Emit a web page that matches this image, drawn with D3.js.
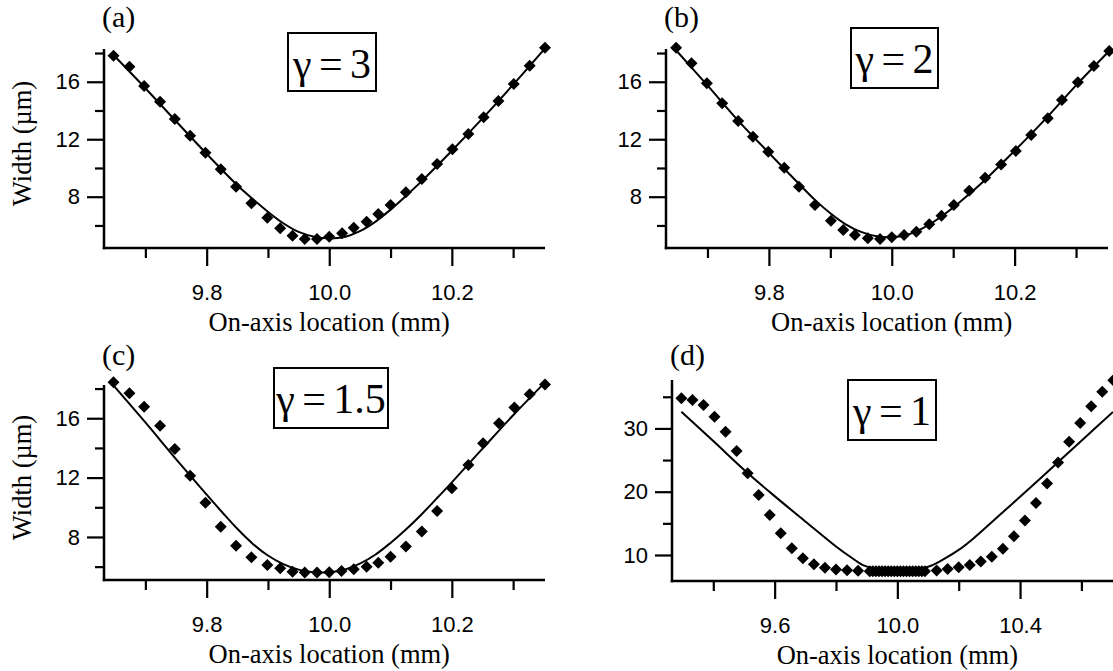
<!DOCTYPE html>
<html><head><meta charset="utf-8">
<script src="https://cdn.jsdelivr.net/npm/d3@7"></script>
<style>
body{margin:0;background:#fff;}
svg{display:block;}
</style></head><body>
<svg id="chart" width="1113" height="671"></svg>
<script>
// ---------------- DATA ----------------
// Panel (a)  gamma = 3
const aMarkX = [9.648, 9.674, 9.698, 9.724, 9.748, 9.773, 9.798, 9.823, 9.848, 9.873, 9.899, 9.920, 9.940, 9.960, 9.980, 10.000, 10.021, 10.040, 10.061, 10.080, 10.100, 10.125, 10.151, 10.176, 10.201, 10.227, 10.252, 10.276, 10.301, 10.327, 10.352];
const aMarkY = [17.81, 17.05, 15.70, 14.61, 13.41, 12.24, 11.06, 9.91, 8.70, 7.54, 6.54, 5.80, 5.29, 5.06, 5.06, 5.22, 5.45, 5.84, 6.26, 6.80, 7.42, 8.31, 9.23, 10.28, 11.30, 12.36, 13.53, 14.66, 15.84, 17.12, 18.37];
const aFitX = [9.648, 9.70, 9.75, 9.80, 9.85, 9.875, 9.90, 9.925, 9.95, 9.975, 10.00, 10.025, 10.05, 10.075, 10.10, 10.125, 10.15, 10.20, 10.25, 10.30, 10.352];
const aFitY = [17.86, 15.55, 13.25, 10.98, 8.80, 7.85, 6.95, 6.15, 5.55, 5.22, 5.10, 5.20, 5.60, 6.25, 7.10, 8.05, 9.05, 11.20, 13.45, 15.80, 18.33];

// Panel (b)  gamma = 2
const bMarkX = [9.649, 9.674, 9.699, 9.724, 9.750, 9.774, 9.799, 9.825, 9.849, 9.875, 9.901, 9.921, 9.940, 9.961, 9.981, 10.000, 10.020, 10.040, 10.061, 10.081, 10.101, 10.126, 10.152, 10.178, 10.202, 10.227, 10.254, 10.277, 10.303, 10.329, 10.354];
const bMarkY = [18.37, 17.28, 15.89, 14.50, 13.27, 12.18, 11.13, 10.02, 8.70, 7.42, 6.33, 5.68, 5.33, 5.10, 5.06, 5.17, 5.33, 5.56, 6.08, 6.68, 7.42, 8.42, 9.32, 10.25, 11.18, 12.29, 13.46, 14.73, 15.96, 17.10, 18.14];
const bFitX = [9.646, 9.70, 9.75, 9.80, 9.85, 9.875, 9.90, 9.925, 9.95, 9.975, 10.00, 10.025, 10.05, 10.075, 10.10, 10.125, 10.15, 10.20, 10.25, 10.30, 10.354];
const bFitY = [18.33, 15.75, 13.30, 11.05, 8.85, 7.78, 6.85, 6.08, 5.55, 5.25, 5.18, 5.35, 5.80, 6.45, 7.25, 8.15, 9.10, 11.20, 13.40, 15.75, 18.14];

// Panel (c)  gamma = 1.5
const cMarkX = [9.648, 9.674, 9.698, 9.724, 9.748, 9.773, 9.798, 9.823, 9.848, 9.873, 9.899, 9.920, 9.940, 9.960, 9.980, 10.000, 10.020, 10.040, 10.061, 10.080, 10.100, 10.125, 10.151, 10.176, 10.200, 10.227, 10.251, 10.277, 10.302, 10.327, 10.352];
const cMarkY = [18.42, 17.68, 16.77, 15.50, 13.93, 12.13, 10.31, 8.69, 7.41, 6.63, 6.11, 5.89, 5.66, 5.60, 5.60, 5.62, 5.71, 5.82, 6.00, 6.27, 6.67, 7.35, 8.36, 9.75, 11.28, 12.85, 14.31, 15.66, 16.73, 17.61, 18.28];
const cFitX = [9.645, 9.70, 9.75, 9.80, 9.825, 9.85, 9.875, 9.90, 9.925, 9.95, 9.975, 10.00, 10.025, 10.05, 10.075, 10.10, 10.125, 10.15, 10.175, 10.20, 10.25, 10.30, 10.352];
const cFitY = [18.35, 15.72, 13.25, 10.85, 9.68, 8.55, 7.55, 6.75, 6.17, 5.80, 5.62, 5.62, 5.80, 6.20, 6.80, 7.60, 8.50, 9.50, 10.58, 11.68, 13.95, 16.20, 18.42];

// Panel (d)  gamma = 1
const dMarkX = [9.296, 9.332, 9.368, 9.404, 9.440, 9.476, 9.512, 9.548, 9.584, 9.620, 9.656, 9.692, 9.728, 9.764, 9.800, 9.836, 9.872,
                9.91, 9.92, 9.93, 9.94, 9.95, 9.96, 9.97, 9.98, 9.99, 10.00, 10.01, 10.02, 10.03, 10.04, 10.05, 10.06, 10.07, 10.08, 10.09,
                10.128, 10.164, 10.200, 10.236, 10.272, 10.308, 10.344, 10.380, 10.416, 10.452, 10.488, 10.524, 10.560, 10.596, 10.632, 10.668, 10.704];
const dMarkY = [34.75, 34.49, 33.70, 31.85, 29.48, 26.43, 22.90, 19.48, 16.32, 13.43, 11.06, 9.48, 8.53, 7.99, 7.70, 7.58, 7.52,
                7.45, 7.45, 7.45, 7.45, 7.45, 7.45, 7.45, 7.45, 7.45, 7.45, 7.45, 7.45, 7.45, 7.45, 7.45, 7.45, 7.45, 7.45, 7.45,
                7.55, 7.77, 8.06, 8.42, 8.98, 9.73, 10.98, 12.95, 15.45, 18.22, 21.30, 24.62, 27.90, 30.85, 33.52, 35.80, 37.60];
const dFitX = [9.296, 9.40, 9.511, 9.60, 9.70, 9.80, 9.85, 9.89, 9.92, 9.96, 10.00, 10.04, 10.08, 10.11, 10.15, 10.20, 10.25, 10.34, 10.43, 10.52, 10.61, 10.703];
const dFitY = [32.64, 28.00, 23.00, 19.30, 15.30, 11.35, 9.60, 8.35, 7.95, 7.85, 7.85, 7.85, 7.92, 8.30, 9.30, 10.80, 12.70, 16.60, 20.50, 24.50, 28.50, 32.60];

// Tick values and labels
const xMajorABC = [9.8, 10.0, 10.2];
const xMinorABC = [9.7, 9.9, 10.1, 10.3];
const yMajorABC = [8, 12, 16];
const yMinorABC = [6, 10, 14, 18];
const xMajorD = [9.6, 10.0, 10.4];
const xMinorD = [9.4, 9.8, 10.2, 10.6];
const yMajorD = [10, 20, 30];
const yMinorD = [15, 25, 35];

const panelLetters = ["(a)", "(b)", "(c)", "(d)"];
const gammaLabels = ["γ = 3", "γ = 2", "γ = 1.5", "γ = 1"];
const xTitle = "On-axis location (mm)";
const yTitle = "Width (µm)";

// ---------------- LAYOUT ----------------
const layout = [
  {left:104, right:545, top:49, bottom:248, xd:[9.6325,10.352], yd:[4.43,18.28], letterY:27,
   xMaj:xMajorABC, xMin:xMinorABC, yMaj:yMajorABC, yMin:yMinorABC, yTitle:true,
   box:{x:288, y:33, w:88, h:58}, mx:aMarkX, my:aMarkY, fx:aFitX, fy:aFitY},
  {left:666, right:1108, top:49, bottom:248, xd:[9.6325,10.352], yd:[4.43,18.28], letterY:27,
   xMaj:xMajorABC, xMin:xMinorABC, yMaj:yMajorABC, yMin:yMinorABC, yTitle:false,
   box:{x:851, y:28, w:87, h:60}, mx:bMarkX, my:bMarkY, fx:bFitX, fy:bFitY},
  {left:104, right:545, top:385, bottom:580, xd:[9.6325,10.352], yd:[5.10,18.24], letterY:365,
   xMaj:xMajorABC, xMin:xMinorABC, yMaj:yMajorABC, yMin:yMinorABC, yTitle:true,
   box:{x:274, y:368, w:114, h:60}, mx:cMarkX, my:cMarkY, fx:cFitX, fy:cFitY},
  {left:672, right:1113, top:380, bottom:581, xd:[9.2654,10.703], yd:[5.89,37.65], letterY:365,
   xMaj:xMajorD, xMin:xMinorD, yMaj:yMajorD, yMin:yMinorD, yTitle:false,
   box:{x:848, y:380, w:88, h:60}, mx:dMarkX, my:dMarkY, fx:dFitX, fy:dFitY}
];

const svg = d3.select("#chart");
svg.append("rect").attr("width",1113).attr("height",671).attr("fill","#fff");

const TICK_FONT = "'Liberation Sans', Arial, Helvetica, sans-serif";
const SERIF = "'Liberation Serif', 'Times New Roman', Times, serif";

layout.forEach((p, i) => {
  const x = d3.scaleLinear().domain(p.xd).range([p.left, p.right]);
  const y = d3.scaleLinear().domain(p.yd).range([p.bottom, p.top]);
  const g = svg.append("g");

  // minor ticks
  const xMinAxis = d3.axisBottom(x).tickValues(p.xMin).tickSize(10).tickFormat("");
  const yMinAxis = d3.axisLeft(y).tickValues(p.yMin).tickSize(9).tickFormat("");
  g.append("g").attr("transform",`translate(0,${p.bottom})`).call(xMinAxis).call(s=>s.select(".domain").remove());
  g.append("g").attr("transform",`translate(${p.left},0)`).call(yMinAxis).call(s=>s.select(".domain").remove());

  // major ticks
  const xAxis = d3.axisBottom(x).tickValues(p.xMaj).tickSize(18).tickSizeOuter(0).tickPadding(18).tickFormat(d3.format(".1f"));
  const yAxis = d3.axisLeft(y).tickValues(p.yMaj).tickSize(17).tickSizeOuter(0).tickPadding(7).tickFormat(d3.format("d"));
  const gx = g.append("g").attr("transform",`translate(0,${p.bottom})`).call(xAxis);
  const gy = g.append("g").attr("transform",`translate(${p.left},0)`).call(yAxis);

  g.selectAll(".tick line").attr("stroke","#000").attr("stroke-width",2.2);
  [gx, gy].forEach(a => {
    a.select(".domain").attr("stroke","#000").attr("stroke-width",2.5);
    a.selectAll(".tick text").attr("font-family",TICK_FONT).attr("font-size",22).attr("fill","#000");
  });
  gx.select(".domain").attr("d",`M${p.left-1.25},0H${p.right}`);
  gy.select(".domain").attr("d",`M0,${p.bottom+1.25}V${p.top}`);

  // fitted curve
  const fit = p.fx.map((v,k)=>[v, p.fy[k]]);
  g.append("path").datum(fit)
    .attr("fill","none").attr("stroke","#000").attr("stroke-width",2)
    .attr("d", d3.line().x(d=>x(d[0])).y(d=>y(d[1])).curve(d3.curveCatmullRom.alpha(0.5)));

  // markers (filled diamonds)
  const pts = p.mx.map((v,k)=>[v, p.my[k]]);
  const s = 6;
  g.append("g").selectAll("path").data(pts).join("path")
    .attr("d", d=>{const cx=x(d[0]), cy=y(d[1]); return `M${cx},${cy-s}L${cx+s},${cy}L${cx},${cy+s}L${cx-s},${cy}Z`;})
    .attr("fill","#000");

  // axis titles
  g.append("text").attr("x", x(10.0)).attr("y", p.bottom + 83)
    .attr("text-anchor","middle").attr("font-family",SERIF).attr("font-size",26.5).attr("fill","#000")
    .text(xTitle);
  if (p.yTitle) {
    const cy = (p.top + p.bottom)/2 - 5;
    g.append("text").attr("transform",`translate(31,${cy}) rotate(-90)`)
      .attr("text-anchor","middle").attr("font-family",SERIF).attr("font-size",26.5).attr("fill","#000")
      .text(yTitle);
  }

  // panel letter
  g.append("text").attr("x", p.left - 2).attr("y", p.letterY)
    .attr("font-family",SERIF).attr("font-size",30).attr("fill","#000").text(panelLetters[i]);

  // gamma box
  g.append("rect").attr("x",p.box.x).attr("y",p.box.y).attr("width",p.box.w).attr("height",p.box.h)
    .attr("fill","#fff").attr("stroke","#000").attr("stroke-width",2);
  g.append("text").attr("x",p.box.x + p.box.w/2).attr("y",p.box.y + 45)
    .attr("text-anchor","middle").attr("font-family",SERIF).attr("font-size",42)
    .attr("word-spacing","-3px").attr("fill","#000")
    .text(gammaLabels[i]);
});
</script>
</body></html>
